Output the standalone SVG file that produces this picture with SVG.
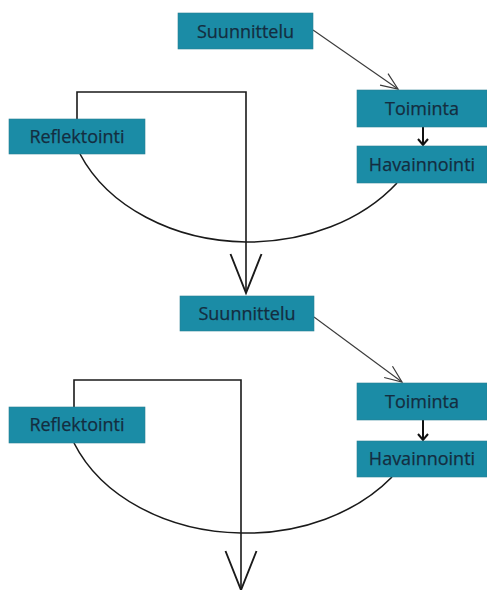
<svg xmlns="http://www.w3.org/2000/svg" width="487" height="590" viewBox="0 0 487 590">
<style>
.box{fill:#1b8ca6;stroke:#2a7f93;stroke-width:0.6}
.lbl{font-family:"Open Sans","Noto Sans",sans-serif;font-size:18px;fill:#142d40;text-anchor:middle;stroke:#142d40;stroke-width:0.25}
.ln{fill:none;stroke:#1a1a1a;stroke-width:1.6}
.diag{fill:none;stroke:#3a3a3a;stroke-width:1.1}
</style>
<defs>
<marker id="bigV" markerUnits="userSpaceOnUse" viewBox="-45 -20 50 40" markerWidth="50" markerHeight="40" refX="0" refY="0" orient="auto" overflow="visible">
<path d="M-39,-15.5 L0,0 L-39,15.5" fill="none" stroke="#1a1a1a" stroke-width="1.9"/>
</marker>
<marker id="diagV" markerUnits="userSpaceOnUse" viewBox="-20 -10 24 20" markerWidth="24" markerHeight="20" refX="0" refY="0" orient="auto" overflow="visible">
<path d="M-17,-7 L0,0 L-17,7" fill="none" stroke="#3a3a3a" stroke-width="1.2"/>
</marker>
<marker id="smallV" markerUnits="userSpaceOnUse" viewBox="-10 -8 12 16" markerWidth="12" markerHeight="16" refX="0" refY="0" orient="auto" overflow="visible">
<path d="M-6,-5 L0,0 L-6,5" fill="none" stroke="#111" stroke-width="2"/>
</marker>
</defs>
<g id="connectors">
<path class="diag" d="M313,30 L398,89" marker-end="url(#diagV)"/>
<path d="M423,127 L423,145" fill="none" stroke="#111" stroke-width="2" marker-end="url(#smallV)"/>
<path class="ln" d="M77,119 V92 H246 V293" marker-end="url(#bigV)"/>
<path class="ln" d="M80,154 A183,142 0 0 0 246,242 A183,142 0 0 0 397,183"/>
<path class="diag" d="M314,317 L402,382" marker-end="url(#diagV)"/>
<path d="M423,420 L423,440" fill="none" stroke="#111" stroke-width="2" marker-end="url(#smallV)"/>
<path class="ln" d="M74,407 V380 H241 V590" marker-end="url(#bigV)"/>
<path class="ln" d="M74,443 A183,142 0 0 0 241,533 A183,142 0 0 0 392,477"/>
</g>
<g id="suunnittelu1"><rect class="box" x="178" y="13" width="135" height="36"/><text class="lbl" x="245.5" y="37.5">Suunnittelu</text></g>
<g id="toiminta1"><rect class="box" x="357" y="90" width="130" height="37"/><text class="lbl" x="422" y="114.5">Toiminta</text></g>
<g id="havainnointi1"><rect class="box" x="357" y="146" width="130" height="37"/><text class="lbl" x="422" y="170.5">Havainnointi</text></g>
<g id="reflektointi1"><rect class="box" x="9" y="119" width="136" height="35"/><text class="lbl" x="77" y="142.5">Reflektointi</text></g>
<g id="suunnittelu2"><rect class="box" x="180" y="296" width="134" height="35"/><text class="lbl" x="247" y="320">Suunnittelu</text></g>
<g id="toiminta2"><rect class="box" x="357" y="383" width="130" height="37"/><text class="lbl" x="422" y="407.5">Toiminta</text></g>
<g id="havainnointi2"><rect class="box" x="357" y="441" width="130" height="36"/><text class="lbl" x="422" y="465">Havainnointi</text></g>
<g id="reflektointi2"><rect class="box" x="9" y="407" width="136" height="36"/><text class="lbl" x="77" y="431">Reflektointi</text></g>
</svg>
